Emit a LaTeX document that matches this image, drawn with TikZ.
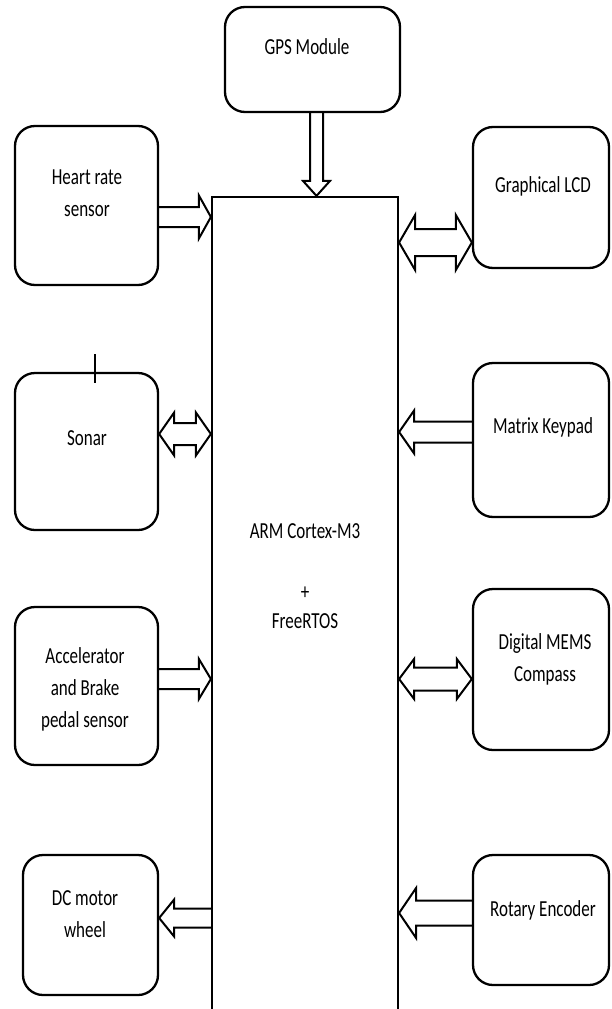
\documentclass[tikz,border=0pt]{standalone}
\usepackage{fontspec}
\setmainfont{Carlito}
\usetikzlibrary{calc}
\newcommand\lbltext[1]{\scalebox{1}[1.35]{\begin{tabular}{@{}c@{}}#1\end{tabular}}}
\newcommand\blkarrow[5]{\draw[arr] let \p1=#1, \p2=#2, \n1={sign(\x2-\x1)} in
  (\x1,{\y1+#3}) -- ({\x2-\n1*#5},{\y1+#3}) -- ({\x2-\n1*#5},{\y1+#4}) -- (\x2,\y1)
  -- ({\x2-\n1*#5},{\y1-#4}) -- ({\x2-\n1*#5},{\y1-#3}) -- (\x1,{\y1-#3});}
\newcommand\vblkarrow[5]{\draw[arr] let \p1=#1, \p2=#2, \n1={sign(\y2-\y1)} in
  ({\x1+#3},\y1) -- ({\x1+#3},{\y2-\n1*#5}) -- ({\x1+#4},{\y2-\n1*#5}) -- (\x1,\y2)
  -- ({\x1-#4},{\y2-\n1*#5}) -- ({\x1-#3},{\y2-\n1*#5}) -- ({\x1-#3},\y1);}
\newcommand\dblarrow[5]{\draw[arr] let \p1=#1, \p2=#2, \n1={sign(\x2-\x1)} in
  (\x1,\y1) -- ({\x1+\n1*#5},{\y1+#4}) -- ({\x1+\n1*#5},{\y1+#3}) -- ({\x2-\n1*#5},{\y1+#3})
  -- ({\x2-\n1*#5},{\y1+#4}) -- (\x2,\y1) -- ({\x2-\n1*#5},{\y1-#4}) -- ({\x2-\n1*#5},{\y1-#3})
  -- ({\x1+\n1*#5},{\y1-#3}) -- ({\x1+\n1*#5},{\y1-#4}) -- cycle;}
\tikzset{
  blk/.style={draw, line width=2.3pt, rounded corners=20pt, inner sep=0pt},
  cpubox/.style={draw, line width=2.2pt, inner sep=0pt},
  lbl/.style={font=\fontsize{17}{23.5}\selectfont, inner sep=0pt},
  arr/.style={line width=2pt, line join=miter},
}
\begin{document}
\begin{tikzpicture}[x=1pt,y=-1pt]
\useasboundingbox (0,0) rectangle (611,1009);
% main block
\node[cpubox, minimum width=186pt, minimum height=815pt] (cpu) at (305,604.5) {};
% peripheral blocks
\node[blk, minimum width=175pt, minimum height=105pt] (gps) at (312.5,59.5) {};
\node[blk, minimum width=143pt, minimum height=159pt] (hr) at (86.5,205.5) {};
\node[blk, minimum width=136pt, minimum height=141pt] (lcd) at (541,197.5) {};
\node[blk, minimum width=143pt, minimum height=157pt] (sonar) at (86.5,451.5) {};
\node[blk, minimum width=136pt, minimum height=154pt] (keypad) at (541,440) {};
\node[blk, minimum width=136pt, minimum height=161pt] (mems) at (541,669.5) {};
\node[blk, minimum width=143pt, minimum height=158pt] (accel) at (86.5,686) {};
\node[blk, minimum width=135pt, minimum height=140pt] (dc) at (90.5,925) {};
\node[blk, minimum width=136pt, minimum height=130pt] (rot) at (541,920) {};
% texts
\node[lbl] (gps-t) at (307,48) {\lbltext{GPS Module}};
\node[lbl] (hr-t) at (87,194) {\lbltext{Heart rate\\sensor}};
\node[lbl] (lcd-t) at (543,186) {\lbltext{Graphical LCD}};
\node[lbl] (sonar-t) at (87,439) {\lbltext{Sonar}};
\node[lbl] (keypad-t) at (543,427) {\lbltext{Matrix Keypad}};
\node[lbl] (mems-t) at (545,659) {\lbltext{Digital MEMS\\Compass}};
\node[lbl] (accel-t) at (85,689) {\lbltext{Accelerator\\and Brake\\pedal sensor}};
\node[lbl] (dc-t) at (85,915) {\lbltext{DC motor\\wheel}};
\node[lbl] (rot-t) at (543,910) {\lbltext{Rotary Encoder}};
\node[lbl] (cpu-t1) at (305,532) {\lbltext{ARM Cortex-M3}};
\node[lbl] (cpu-t2) at (305,593) {\lbltext{+}};
\node[lbl] (cpu-t3) at (305,622) {\lbltext{FreeRTOS}};
% stray tick on sonar block
\draw[line width=1.8pt] (95,354) -- (95,383);
% levels of connectors
\coordinate (xg) at (316.5,0);
\coordinate (yhr) at (0,217);
\coordinate (ylcd) at (0,242.5);
\coordinate (yson) at (0,434);
\coordinate (ykey) at (0,432);
\coordinate (ymems) at (0,679);
\coordinate (yacc) at (0,679);
\coordinate (ydc) at (0,918);
\coordinate (yrot) at (0,913);
% connectors
\vblkarrow{(xg |- gps.south)}{(xg |- cpu.north)}{6.5pt}{13.5pt}{15pt}
\blkarrow{(hr.east |- yhr)}{(cpu.west |- yhr)}{10pt}{21.5pt}{12pt}
\dblarrow{(cpu.east |- ylcd)}{(lcd.west |- ylcd)}{13.5pt}{27.5pt}{16pt}
\dblarrow{(sonar.east |- yson)}{(cpu.west |- yson)}{11pt}{21.5pt}{15pt}
\blkarrow{(keypad.west |- ykey)}{(cpu.east |- ykey)}{10.5pt}{21.5pt}{15pt}
\dblarrow{(cpu.east |- ymems)}{(mems.west |- ymems)}{11.5pt}{20pt}{15pt}
\blkarrow{(accel.east |- yacc)}{(cpu.west |- yacc)}{10pt}{20pt}{12pt}
\blkarrow{(cpu.west |- ydc)}{(dc.east |- ydc)}{9.5pt}{18.5pt}{15pt}
\blkarrow{(rot.west |- yrot)}{(cpu.east |- yrot)}{12.5pt}{25pt}{17pt}
\end{tikzpicture}
\end{document}
